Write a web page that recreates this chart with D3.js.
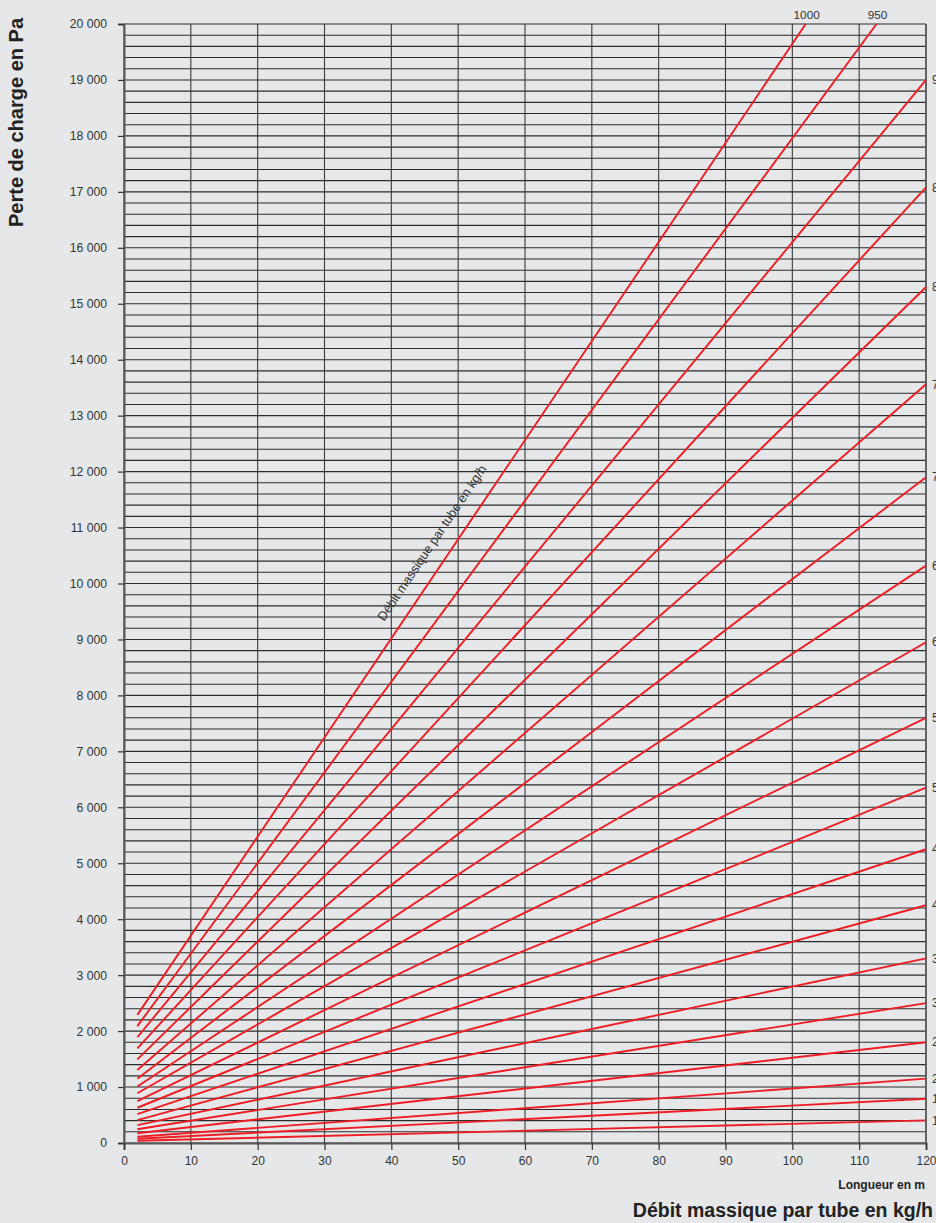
<!DOCTYPE html>
<html>
<head>
<meta charset="utf-8">
<script src="https://cdn.jsdelivr.net/npm/d3@7"></script>
<style>
  html, body { margin: 0; padding: 0; background: #e6e7e8; overflow: hidden; }
  svg { display: block; font-family: "Liberation Sans", Arial, Helvetica, sans-serif; }
</style>
</head>
<body>
<svg id="chart" width="936" height="1223"></svg>
<script>
// ---- Data ----
const flowRates = [1000, 950, 900, 850, 800, 750, 700, 650, 600, 550, 500, 450, 400, 350, 300, 250, 200, 150, 100];
const startLength = [2, 2, 2, 2, 2, 2, 2, 2, 2, 2, 2, 2, 2, 2, 2, 2, 2, 2, 2];
const startLoss = [2290, 2090, 1890, 1690, 1495, 1305, 1150, 1010, 890, 750, 630, 515, 410, 320, 245, 175, 112, 77, 40];
const endLength = [102, 112.6, 120, 120, 120, 120, 120, 120, 120, 120, 120, 120, 120, 120, 120, 120, 120, 120, 120];
const endLoss = [20000, 20000, 19000, 17080, 15300, 13560, 11900, 10320, 8950, 7600, 6350, 5250, 4250, 3300, 2500, 1800, 1150, 790, 405];
const xTicks = [0, 10, 20, 30, 40, 50, 60, 70, 80, 90, 100, 110, 120];
const yTicks = [0, 1000, 2000, 3000, 4000, 5000, 6000, 7000, 8000, 9000, 10000, 11000, 12000, 13000, 14000, 15000, 16000, 17000, 18000, 19000, 20000];
const yMinorStep = 200;

const series = flowRates.map((f, i) => ({
  flow: f,
  points: [[startLength[i], startLoss[i]], [endLength[i], endLoss[i]]]
}));

// ---- Layout ----
const svg = d3.select("#chart");
const W = 936, H = 1223;
svg.append("rect").attr("width", W).attr("height", H).attr("fill", "#e6e7e8");

const x = d3.scaleLinear().domain([0, 120]).range([124, 926]);
const y = d3.scaleLinear().domain([0, 20000]).range([1143, 24]);

const locale = d3.formatLocale({decimal: ",", thousands: "\u00a0", grouping: [3], currency: ["", ""]});
const fmt = locale.format(",");

// minor horizontal grid every 200 Pa
const minor = d3.range(0, 20000 + 1, yMinorStep);
svg.append("g").selectAll("line").data(minor).join("line")
  .attr("x1", x(0)).attr("x2", x(120))
  .attr("y1", d => y(d)).attr("y2", d => y(d))
  .attr("stroke", "#2b2b2b").attr("stroke-width", 1.1);

// vertical grid
svg.append("g").selectAll("line").data(xTicks).join("line")
  .attr("x1", d => x(d)).attr("x2", d => x(d))
  .attr("y1", y(20000)).attr("y2", y(0))
  .attr("stroke", "#3a3a3a").attr("stroke-width", 1.1);

// axes
const yAxis = d3.axisLeft(y).tickValues(yTicks).tickFormat(fmt).tickSize(6).tickPadding(11);
const gy = svg.append("g").attr("transform", `translate(${x(0)},0)`).call(yAxis);
gy.select(".domain").attr("stroke", "#5a5a5a").attr("stroke-width", 2);
gy.selectAll(".tick line").attr("stroke", "#333").attr("stroke-width", 1.2);
gy.selectAll(".tick text").attr("fill", "#333").attr("font-size", 12.2).attr("font-family", "Liberation Sans, Arial, sans-serif");

const xAxis = d3.axisBottom(x).tickValues(xTicks).tickFormat(d3.format("d")).tickSize(7).tickPadding(6);
const gx = svg.append("g").attr("transform", `translate(0,${y(0)})`).call(xAxis);
gx.select(".domain").attr("stroke", "#5a5a5a").attr("stroke-width", 2);
gx.selectAll(".tick line").attr("stroke", "#333").attr("stroke-width", 1.2);
gx.selectAll(".tick text").attr("fill", "#333").attr("font-size", 12).attr("font-family", "Liberation Sans, Arial, sans-serif");

// right border
svg.append("line").attr("x1", x(120)).attr("x2", x(120)).attr("y1", y(20000)).attr("y2", y(0))
  .attr("stroke", "#5a5a5a").attr("stroke-width", 1.6);

// red lines
const line = d3.line().x(d => x(d[0])).y(d => y(d[1]));
svg.append("g").selectAll("path").data(series).join("path")
  .attr("d", d => line(d.points))
  .attr("fill", "none").attr("stroke", "#ee1d23").attr("stroke-width", 1.9);

// labels at line ends (cut by the page edge, as in the original)
svg.append("g").selectAll("text").data(series.filter(s => s.points[1][0] >= 120)).join("text")
  .attr("x", x(120) + 6).attr("y", d => y(d.points[1][1]))
  .attr("dy", "0.35em").attr("font-size", 12).attr("fill", "#333")
  .text(d => d.flow);
svg.append("g").selectAll("text").data(series.filter(s => s.points[1][0] < 120)).join("text")
  .attr("x", d => x(d.points[1][0]) + 1).attr("y", y(20000) - 5)
  .attr("text-anchor", "middle").attr("font-size", 11.8).attr("fill", "#333")
  .text(d => d.flow);

// diagonal label along the 1000 kg/h line
const s0 = series[0];
const ang = Math.atan2(y(s0.points[1][1]) - y(s0.points[0][1]), x(s0.points[1][0]) - x(s0.points[0][0])) * 180 / Math.PI;
svg.append("text")
  .attr("transform", `translate(${x(38.9)},${y(9317)}) rotate(${ang})`)
  .attr("font-size", 12.8).attr("fill", "#333")
  .text("Débit massique par tube en kg/h");

// axis titles
svg.append("text")
  .attr("transform", "translate(23,18) rotate(-90)")
  .attr("text-anchor", "end").attr("font-size", 20).attr("font-weight", "bold").attr("fill", "#222")
  .text("Perte de charge en Pa");

svg.append("text")
  .attr("x", 925).attr("y", 1189).attr("text-anchor", "end")
  .attr("font-size", 12).attr("font-weight", "bold").attr("fill", "#222")
  .text("Longueur en m");

svg.append("text")
  .attr("x", 933).attr("y", 1217).attr("text-anchor", "end")
  .attr("font-size", 19.5).attr("font-weight", "bold").attr("fill", "#222")
  .text("Débit massique par tube en kg/h");
</script>
</body>
</html>
